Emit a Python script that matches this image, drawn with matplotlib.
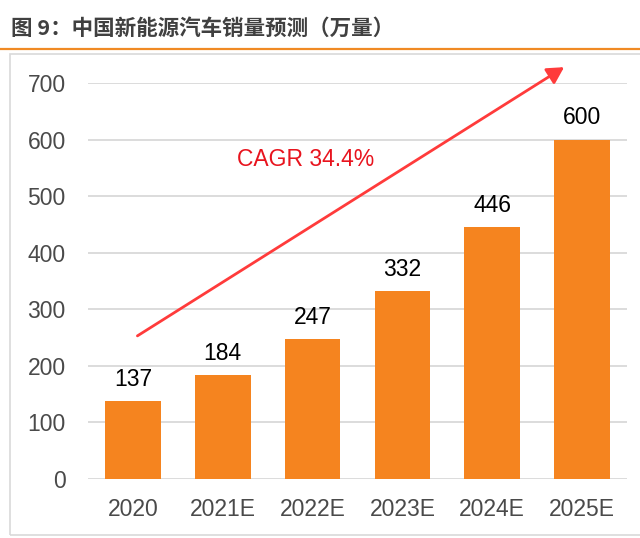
import matplotlib
matplotlib.use("Agg")
import matplotlib.pyplot as plt
from matplotlib.patches import Rectangle
from matplotlib.lines import Line2D

categories = ["2020", "2021E", "2022E", "2023E", "2024E", "2025E"]
sales = [137, 184, 247, 332, 446, 600]
yticks = [0, 100, 200, 300, 400, 500, 600, 700]
title = "图 9：中国新能源汽车销量预测（万量）"
cagr_label = "CAGR 34.4%"

W, H = 640, 538
fig = plt.figure(figsize=(W / 100, H / 100), dpi=100)
fig.patch.set_facecolor("white")

# title and orange rule
fig.text(11 / W, 1 - 28 / H, title, fontsize=15.5, fontweight="bold", color="#404040",
         family=["Noto Sans CJK SC", "DejaVu Sans"], va="center", ha="left")
fig.add_artist(Line2D([0, 1], [1 - 49 / H, 1 - 49 / H], color="#F08A24", lw=1.6,
                      transform=fig.transFigure))
# chart frame
fig.add_artist(Rectangle((10 / W, 1 - 535 / H), 640 / W, (535 - 54) / H, fill=False,
                         edgecolor="#D9D9D9", lw=1.2, transform=fig.transFigure))

left, right, top, bottom = 88, 627, 83, 479
ax = fig.add_axes([left / W, 1 - bottom / H, (right - left) / W, (bottom - top) / H])
x = list(range(len(categories)))
ax.bar(x, sales, width=0.62, color="#F5841F", zorder=3)
ax.set_xlim(-0.5, len(categories) - 0.5)
ax.set_ylim(0, 700)
ax.set_yticks(yticks)
ax.set_xticks(x)
ax.set_xticklabels(categories)
ax.grid(axis="y", color="#D9D9D9", lw=1.3, zorder=0)
for s in ax.spines.values():
    s.set_visible(False)
ax.tick_params(length=0, labelsize=16.5, labelcolor="#4A4A4A")
ax.tick_params(axis="x", pad=14)
ax.tick_params(axis="y", pad=16)
for lab in ax.get_xticklabels() + ax.get_yticklabels():
    lab.set_family("Liberation Sans")

for xi, v in zip(x, sales):
    ax.text(xi, v + 18, str(v), ha="center", va="bottom", fontsize=16.5,
            family="Liberation Sans", color="black")

ax.annotate("", xy=(4.8, 728), xytext=(0.05, 253),
            arrowprops=dict(arrowstyle="-|>,head_length=1.0,head_width=0.55", color="#FF3B3B",
                            lw=2, shrinkA=0, shrinkB=0),
            annotation_clip=False)
ax.text(1.92, 564, cagr_label, ha="center", va="center", fontsize=16.5,
        family="Liberation Sans", color="#E8141E")

fig.savefig("out.png", dpi=100)
